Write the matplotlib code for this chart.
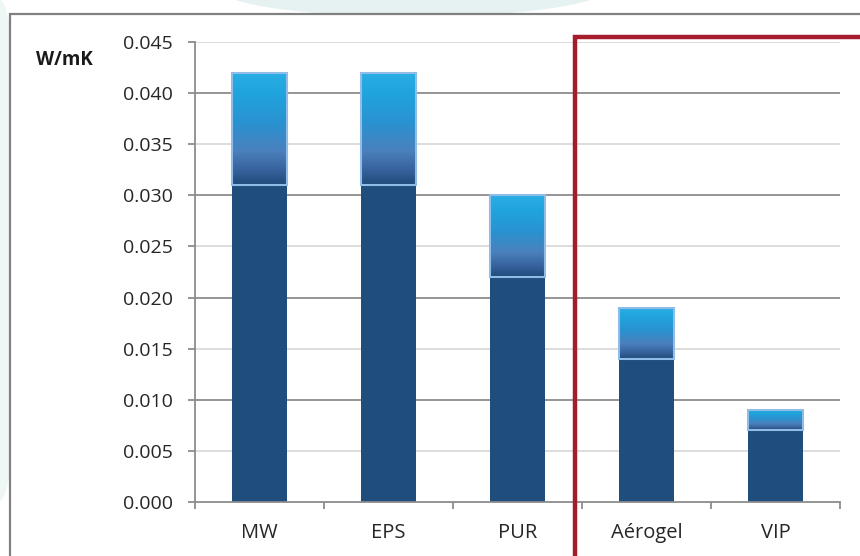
import matplotlib
matplotlib.use("Agg")
import matplotlib.pyplot as plt
import numpy as np
from matplotlib.patches import Rectangle, Ellipse
from matplotlib.colors import LinearSegmentedColormap

categories = ["MW", "EPS", "PUR", "Aérogel", "VIP"]
low_values = [0.031, 0.031, 0.022, 0.014, 0.007]
high_values = [0.042, 0.042, 0.030, 0.019, 0.009]
y_ticks = [0.000, 0.005, 0.010, 0.015, 0.020, 0.025, 0.030, 0.035, 0.040, 0.045]
unit_label = "W/mK"

plt.rcParams['font.family'] = ['Open Sans', 'DejaVu Sans']

W, H = 860, 556
fig = plt.figure(figsize=(W / 100, H / 100), dpi=100)
fig.patch.set_facecolor("white")

# faint background swoosh
fig.patches.append(Ellipse((0.48, 1.02), 0.45, 0.10, transform=fig.transFigure,
                           facecolor="#e6f2f2", edgecolor="none", zorder=0))
fig.patches.append(Ellipse((0.0, 0.55), 0.05, 0.9, transform=fig.transFigure,
                           facecolor="#eef6f6", edgecolor="none", zorder=0))

# outer gray frame
fx0, fy1 = 10 / W, 1 - 14 / H
fig.patches.append(Rectangle((fx0, -0.05), 1.1, fy1 + 0.05, transform=fig.transFigure,
                             facecolor="white", edgecolor="#808080", linewidth=1.6, zorder=1))

ax = fig.add_axes([195 / W, 1 - 502 / H, (840 - 195) / W, (502 - 42) / H])
ax.set_zorder(2)
ax.patch.set_alpha(0)

x = np.arange(len(categories))
bw = 0.42
ax.set_xlim(-0.5, len(categories) - 0.5)
ax.set_ylim(0, 0.045)

# gridlines
for t in y_ticks[1:]:
    major = abs(round(t * 1000) % 10) < 1e-9
    ax.axhline(t, color="#8c8c8c" if major else "#d3d3d3",
               linewidth=1.3 if major else 1.1, zorder=0.5)

# lower (dark) segments
ax.bar(x, low_values, width=bw, color="#1f4e7c", edgecolor="none", zorder=2)

# gradient for upper segments
cmap = LinearSegmentedColormap.from_list(
    "grad", [(0.0, "#1f4a7a"), (0.12, "#35609a"), (0.3, "#4a80bd"),
             (0.55, "#2a92d0"), (0.8, "#20a3dd"), (1.0, "#2aaee4")])
grad = np.linspace(0, 1, 256).reshape(-1, 1)
for xi, lo, hi in zip(x, low_values, high_values):
    im = ax.imshow(grad, aspect="auto", cmap=cmap, origin="lower",
                   extent=(xi - bw / 2, xi + bw / 2, lo, hi), zorder=3)
    clip = Rectangle((xi - bw / 2, lo), bw, hi - lo, transform=ax.transData)
    im.set_clip_path(clip)
ax.bar(x, np.array(high_values) - np.array(low_values), bottom=low_values, width=bw,
       facecolor="none", edgecolor="#8fbde8", linewidth=1.5, zorder=4)

ax.set_xlim(-0.5, len(categories) - 0.5)
ax.set_ylim(0, 0.045)

# spines and ticks
for s in ["top", "right"]:
    ax.spines[s].set_visible(False)
for s in ["left", "bottom"]:
    ax.spines[s].set_color("#8c8c8c")
    ax.spines[s].set_linewidth(1.3)
    ax.spines[s].set_zorder(5)

ax.set_yticks(y_ticks)
ax.set_yticklabels([f"{t:.3f}" for t in y_ticks])
ax.tick_params(axis="y", length=5, width=1.3, color="#8c8c8c", pad=11,
               labelsize=14, labelcolor="#262626")
ax.set_xticks(x)
ax.set_xticklabels(categories)
ax.tick_params(axis="x", which="major", length=0, pad=15, labelsize=14.5, labelcolor="#262626")
ax.set_xticks(np.arange(-0.5, len(categories) + 0.5, 1.0), minor=True)
ax.tick_params(axis="x", which="minor", length=5, width=1.3, color="#8c8c8c")

fig.text(36 / W, 1 - 60 / H, unit_label, fontsize=13.5, fontweight="bold",
         color="#1a1a1a", ha="left", va="center")

# red highlight frame
rx0, ry1 = 575 / W, 1 - 37 / H
fig.patches.append(Rectangle((rx0, -0.05), 1.0, ry1 + 0.05, transform=fig.transFigure,
                             facecolor="none", edgecolor="#a51d2d", linewidth=3.2, zorder=10))

fig.savefig("out.png", dpi=100)
